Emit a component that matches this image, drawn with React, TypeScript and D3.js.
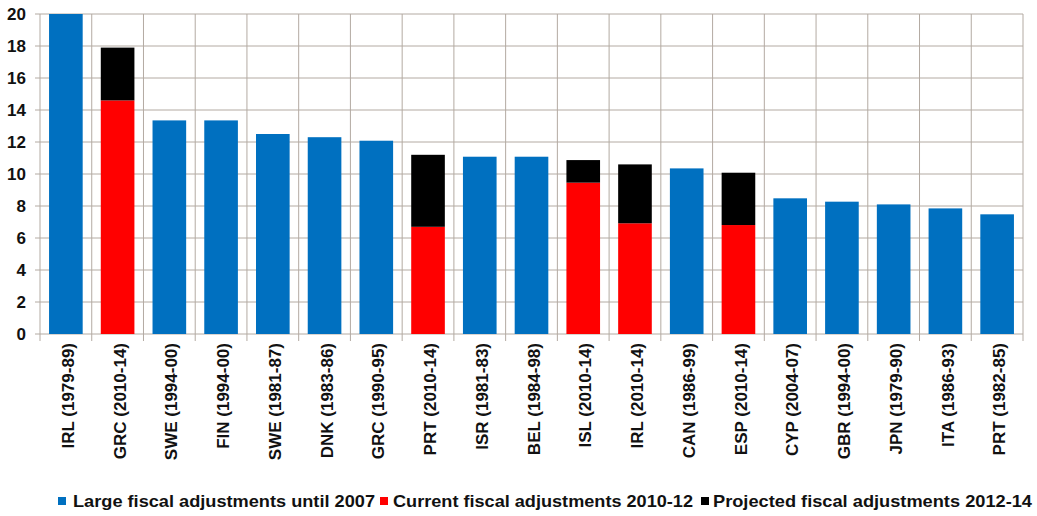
import React from "react";
import * as d3 from "d3";

const categories = [
  "IRL (1979-89)", "GRC (2010-14)", "SWE (1994-00)", "FIN (1994-00)", "SWE (1981-87)",
  "DNK (1983-86)", "GRC (1990-95)", "PRT (2010-14)", "ISR (1981-83)", "BEL (1984-98)",
  "ISL (2010-14)", "IRL (2010-14)", "CAN (1986-99)", "ESP (2010-14)", "CYP (2004-07)",
  "GBR (1994-00)", "JPN (1979-90)", "ITA (1986-93)", "PRT (1982-85)",
];
const largeUntil2007 = [20, 0, 13.35, 13.35, 12.5, 12.3, 12.08, 0, 11.08, 11.08, 0, 0, 10.35, 0, 8.48, 8.27, 8.1, 7.85, 7.48];
const current2010_12 = [0, 14.6, 0, 0, 0, 0, 0, 6.7, 0, 0, 9.46, 6.92, 0, 6.81, 0, 0, 0, 0, 0];
const projected2012_14 = [0, 3.3, 0, 0, 0, 0, 0, 4.5, 0, 0, 1.41, 3.68, 0, 3.27, 0, 0, 0, 0, 0];
const yTicks = [0, 2, 4, 6, 8, 10, 12, 14, 16, 18, 20];
const seriesNames = [
  "Large fiscal adjustments until 2007",
  "Current fiscal adjustments 2010-12",
  "Projected fiscal adjustments 2012-14",
];
const seriesColors = ["#0070C0", "#FF0000", "#000000"];

const W = 1037, H = 516;
const left = 40, right = 1023, top = 14, bottom = 334;
const font = "'Liberation Sans', Arial, sans-serif";
const grid = "#b3aaa2";

const legendLayout = [
  { sq: 58, tx: 73, tw: 302 },
  { sq: 380, tx: 393, tw: 300 },
  { sq: 701, tx: 713, tw: 319 },
];

export default function App() {
  const x = d3.scaleBand<string>().domain(categories).range([left, right]).paddingInner(0.35).paddingOuter(0.175);
  const xb = d3.scaleBand<string>().domain(categories).range([left, right]);
  const y = d3.scaleLinear().domain([0, 20]).range([bottom, top]);

  const rows = categories.map((c, i) => ({ c, a: largeUntil2007[i], b: current2010_12[i], p: projected2012_14[i] }));
  const stack = d3.stack<any>().keys(["a", "b", "p"])(rows as any);

  return (
    <svg width={W} height={H} style={{ position: "absolute", left: 0, top: 0, background: "#fff" }}>
      {yTicks.map((t) => (
        <g key={"h" + t}>
          <line x1={left - 5} x2={right} y1={y(t)} y2={y(t)} stroke={grid} strokeWidth={1} />
          <text x={26} y={y(t)} dy="0.36em" textAnchor="end" fontFamily={font} fontWeight="bold" fontSize={17} fill="#111">{t}</text>
        </g>
      ))}
      {categories.map((c, i) => (
        <line key={"v" + i} x1={xb(c)!} x2={xb(c)!} y1={top} y2={bottom + 7} stroke={grid} strokeWidth={1} />
      ))}
      <line x1={right} x2={right} y1={top} y2={bottom + 7} stroke={grid} strokeWidth={1} />
      {stack.map((s, si) => (
        <g key={"s" + si} fill={seriesColors[si]}>
          {s.map((d: any, i: number) =>
            d[1] - d[0] > 0 ? (
              <rect key={i} x={x(categories[i])!} width={x.bandwidth()} y={y(d[1])} height={y(d[0]) - y(d[1])} />
            ) : null
          )}
        </g>
      ))}
      {categories.map((c) => {
        const cx = xb(c)! + xb.bandwidth() / 2 + 2;
        return (
          <text key={"l" + c} transform={`translate(${cx},${bottom + 9}) rotate(-90)`} textAnchor="end" dy="0.36em"
            fontFamily={font} fontWeight="bold" fontSize={17} fill="#111">{c}</text>
        );
      })}
      {seriesNames.map((n, i) => (
        <g key={"lg" + i}>
          <rect x={legendLayout[i].sq} y={497} width={8} height={8} fill={seriesColors[i]} />
          <text x={legendLayout[i].tx} y={507} textLength={legendLayout[i].tw} lengthAdjust="spacingAndGlyphs"
            fontFamily={font} fontWeight="bold" fontSize={17} fill="#111">{n}</text>
        </g>
      ))}
    </svg>
  );
}
